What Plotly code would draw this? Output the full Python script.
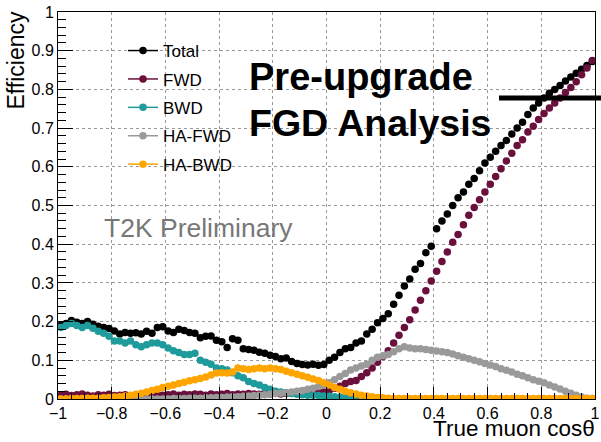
import numpy as np
import plotly.graph_objects as go

# bin centres of true muon cos(theta), 100 bins from -1 to 1
cos_bins = [round(-0.99 + 0.02 * i, 2) for i in range(100)]

eff_total = [
    0.190, 0.195, 0.203, 0.198, 0.195, 0.200, 0.193, 0.188, 0.185, 0.182,
    0.176, 0.168, 0.172, 0.170, 0.171, 0.168, 0.175, 0.170, 0.185, 0.187,
    0.176, 0.172, 0.180, 0.177, 0.172, 0.170, 0.158, 0.162, 0.163, 0.152,
    0.148, 0.133, 0.156, 0.152, 0.130, 0.128, 0.126, 0.121, 0.118, 0.113,
    0.110, 0.104, 0.106, 0.097, 0.092, 0.089, 0.088, 0.090, 0.087, 0.089,
    0.100, 0.108, 0.120, 0.130, 0.133, 0.145, 0.150, 0.168, 0.180, 0.197,
    0.208, 0.220, 0.245, 0.268, 0.292, 0.310, 0.335, 0.350, 0.378, 0.395,
    0.440, 0.460, 0.478, 0.500, 0.520, 0.535, 0.555, 0.570, 0.590, 0.610,
    0.625, 0.640, 0.655, 0.668, 0.685, 0.700, 0.715, 0.735, 0.752, 0.765,
    0.778, 0.790, 0.800, 0.810, 0.822, 0.832, 0.842, 0.852, 0.862, 0.872,
]

eff_fwd = [
    0.010, 0.012, 0.009, 0.011, 0.013, 0.010, 0.008, 0.011, 0.010, 0.012,
    0.009, 0.010, 0.011, 0.008, 0.010, 0.012, 0.011, 0.009, 0.012, 0.010,
    0.011, 0.013, 0.010, 0.012, 0.011, 0.013, 0.012, 0.010, 0.013, 0.011,
    0.012, 0.014, 0.011, 0.013, 0.012, 0.014, 0.013, 0.012, 0.014, 0.013,
    0.015, 0.013, 0.014, 0.015, 0.014, 0.015, 0.016, 0.015, 0.017, 0.018,
    0.022, 0.028, 0.033, 0.040, 0.045, 0.048, 0.058, 0.068, 0.080, 0.095,
    0.110, 0.125, 0.145, 0.165, 0.185, 0.205, 0.230, 0.255, 0.280, 0.305,
    0.330, 0.355, 0.380, 0.405, 0.425, 0.450, 0.475, 0.495, 0.515, 0.535,
    0.555, 0.575, 0.595, 0.615, 0.635, 0.655, 0.670, 0.690, 0.705, 0.722,
    0.738, 0.752, 0.765, 0.778, 0.792, 0.805, 0.820, 0.838, 0.855, 0.875,
]

eff_bwd = [
    0.185, 0.190, 0.195, 0.190, 0.185, 0.190, 0.183, 0.175, 0.170, 0.162,
    0.150, 0.150, 0.145, 0.150, 0.140, 0.135, 0.140, 0.145, 0.145, 0.140,
    0.132, 0.125, 0.120, 0.115, 0.115, 0.118, 0.100, 0.095, 0.090, 0.080,
    0.078, 0.075, 0.068, 0.060, 0.055, 0.045, 0.040, 0.036, 0.030, 0.025,
    0.020, 0.018, 0.016, 0.014, 0.012, 0.011, 0.010, 0.010, 0.009, 0.008,
    0.007, 0.006, 0.005, 0.004, 0.003, 0.002, 0.002, 0.001, 0.001, 0.001,
    0.000, 0.000, 0.000, 0.000, 0.000, 0.000, 0.000, 0.000, 0.000, 0.000,
    0.000, 0.000, 0.000, 0.000, 0.000, 0.000, 0.000, 0.000, 0.000, 0.000,
    0.000, 0.000, 0.000, 0.000, 0.000, 0.000, 0.000, 0.000, 0.000, 0.000,
    0.000, 0.000, 0.000, 0.000, 0.000, 0.000, 0.000, 0.000, 0.000, 0.000,
]

eff_ha_fwd = [
    0.000, 0.000, 0.000, 0.000, 0.000, 0.000, 0.000, 0.000, 0.000, 0.000,
    0.000, 0.000, 0.000, 0.000, 0.000, 0.000, 0.000, 0.000, 0.000, 0.000,
    0.000, 0.001, 0.001, 0.001, 0.002, 0.002, 0.002, 0.003, 0.003, 0.004,
    0.004, 0.005, 0.006, 0.006, 0.007, 0.008, 0.009, 0.010, 0.011, 0.012,
    0.014, 0.015, 0.016, 0.018, 0.020, 0.022, 0.025, 0.028, 0.032, 0.036,
    0.042, 0.050, 0.058, 0.066, 0.075, 0.080, 0.085, 0.090, 0.100, 0.108,
    0.112, 0.115, 0.122, 0.130, 0.135, 0.132, 0.130, 0.130, 0.128, 0.126,
    0.124, 0.122, 0.120, 0.116, 0.112, 0.108, 0.104, 0.100, 0.096, 0.092,
    0.088, 0.084, 0.078, 0.074, 0.070, 0.064, 0.060, 0.055, 0.050, 0.046,
    0.042, 0.036, 0.031, 0.026, 0.020, 0.015, 0.010, 0.005, 0.002, 0.001,
]

eff_ha_bwd = [
    0.000, 0.000, 0.001, 0.001, 0.001, 0.002, 0.002, 0.002, 0.003, 0.004,
    0.005, 0.006, 0.008, 0.010, 0.012, 0.015, 0.018, 0.022, 0.025, 0.030,
    0.033, 0.036, 0.040, 0.043, 0.047, 0.050, 0.053, 0.057, 0.062, 0.067,
    0.068, 0.067, 0.070, 0.080, 0.078, 0.076, 0.078, 0.080, 0.078, 0.080,
    0.078, 0.076, 0.072, 0.068, 0.064, 0.060, 0.056, 0.052, 0.048, 0.042,
    0.036, 0.030, 0.025, 0.020, 0.016, 0.013, 0.010, 0.008, 0.006, 0.004,
    0.003, 0.002, 0.001, 0.001, 0.001, 0.001, 0.001, 0.001, 0.001, 0.001,
    0.001, 0.001, 0.001, 0.001, 0.001, 0.001, 0.001, 0.001, 0.001, 0.001,
    0.001, 0.001, 0.001, 0.001, 0.001, 0.001, 0.001, 0.001, 0.001, 0.001,
    0.001, 0.001, 0.001, 0.001, 0.001, 0.001, 0.001, 0.001, 0.001, 0.001,
]

series_names = ["Total", "FWD", "BWD", "HA-FWD", "HA-BWD"]
series_values = [eff_total, eff_fwd, eff_bwd, eff_ha_fwd, eff_ha_bwd]
series_colors = ["#000000", "#6b0f3d", "#1f9b9b", "#9a9a9a", "#ffa500"]

FONT = "Liberation Sans, Arial, Helvetica, sans-serif"
L, R, T, B = 58, 6, 12, 43
W, H = 601, 442
PW, PH = W - L - R, H - T - B


def px_x(px):
    return (px - L) / PW


def px_y(py):
    return (H - B - py) / PH


fig = go.Figure()
for name, vals, col in zip(series_names, series_values, series_colors):
    fig.add_trace(go.Scatter(
        x=cos_bins, y=vals, mode="markers", name=name,
        marker=dict(color=col, size=7.5, line=dict(width=0)),
        showlegend=False, cliponaxis=True,
    ))
# legend entries (line + marker glyph, as in ROOT legend)
for name, col in zip(series_names, series_colors):
    fig.add_trace(go.Scatter(
        x=[None], y=[None], mode="lines+markers", name=name,
        legendgroup=name,
        line=dict(color=col, width=1.5),
        marker=dict(color=col, size=7.5),
    ))

fig.update_layout(
    width=W, height=H,
    margin=dict(l=L, r=R, t=T, b=B, autoexpand=False),
    paper_bgcolor="white", plot_bgcolor="white",
    font=dict(family=FONT, color="#000000"),
    legend=dict(
        x=px_x(123), y=px_y(33), xanchor="left", yanchor="top",
        bgcolor="rgba(0,0,0,0)", borderwidth=0,
        font=dict(size=17, family=FONT, color="#000"),
        tracegroupgap=3.3, itemwidth=30,
    ),
    xaxis=dict(
        range=[-1, 1], dtick=0.2, tick0=-1, automargin=False,
        ticks="inside", ticklen=12, tickcolor="#000", tickwidth=1,
        showline=True, linecolor="#000", linewidth=1, mirror=True,
        showgrid=True, gridcolor="#999", griddash="dot", gridwidth=1,
        zeroline=False,
        tickfont=dict(size=16, family=FONT),
        minor=dict(dtick=0.05, ticks="inside", ticklen=6, tickcolor="#000", showgrid=False),
    ),
    yaxis=dict(
        range=[0, 1], dtick=0.1, tick0=0, automargin=False,
        ticks="inside", ticklen=15, tickcolor="#000", tickwidth=1,
        showline=True, linecolor="#000", linewidth=1, mirror=True,
        showgrid=True, gridcolor="#999", griddash="dot", gridwidth=1,
        zeroline=False,
        tickfont=dict(size=16, family=FONT),
        minor=dict(dtick=0.02, ticks="inside", ticklen=8, tickcolor="#000", showgrid=False),
    ),
)

annotations = [
    dict(text="Efficiency", textangle=-90, x=px_x(16), y=px_y(9),
         xref="paper", yref="paper", xanchor="center", yanchor="top",
         showarrow=False, font=dict(size=23, family=FONT, color="#000")),
    dict(text="True muon cosθ", x=px_x(596), y=px_y(442),
         xref="paper", yref="paper", xanchor="right", yanchor="bottom",
         borderpad=0,
         showarrow=False, font=dict(size=22.5, family=FONT, color="#000")),
    dict(text="T2K Preliminary", x=px_x(102), y=px_y(228),
         xref="paper", yref="paper", xanchor="left", yanchor="middle",
         showarrow=False, font=dict(size=26.5, family=FONT, color="#777")),
    dict(text="<b>Pre-upgrade</b>", x=px_x(247), y=px_y(77),
         xref="paper", yref="paper", xanchor="left", yanchor="middle",
         showarrow=False, font=dict(size=38, family=FONT, color="#000")),
    dict(text="<b>FGD Analysis</b>", x=px_x(247), y=px_y(123),
         xref="paper", yref="paper", xanchor="left", yanchor="middle",
         showarrow=False, font=dict(size=37.5, family=FONT, color="#000")),
]
fig.update_layout(annotations=annotations)

fig.add_shape(type="line", xref="paper", yref="paper",
              x0=px_x(499), x1=px_x(601),
              y0=px_y(98), y1=px_y(98),
              line=dict(color="#000", width=5))

fig.write_html(
    "out.html",
    config={"displayModeBar": False},
    post_script="document.body.style.margin='0';document.body.style.padding='0';",
)
